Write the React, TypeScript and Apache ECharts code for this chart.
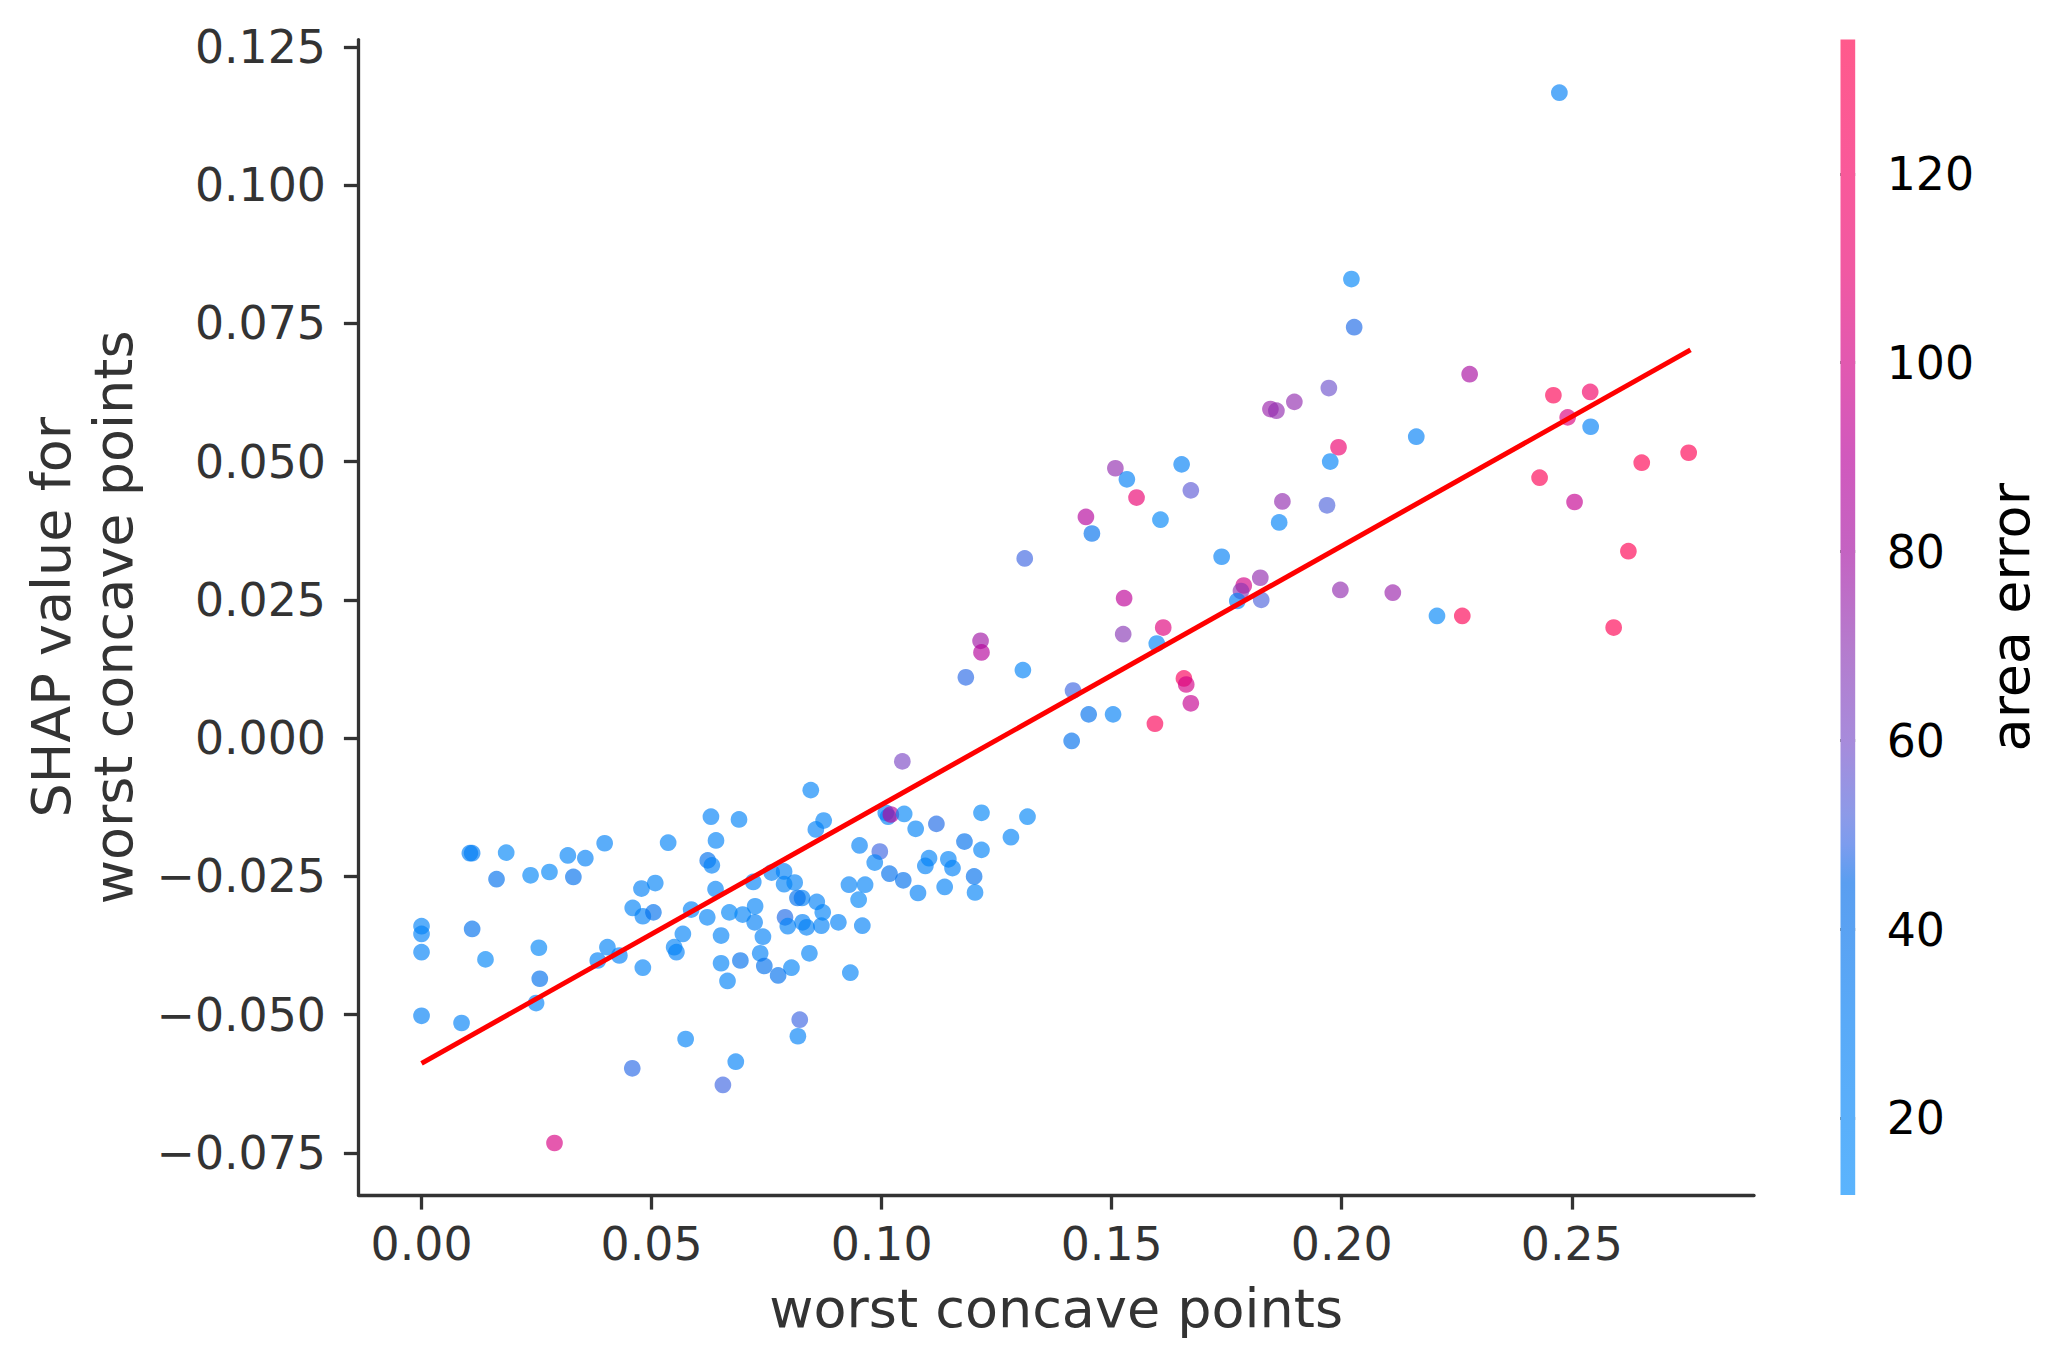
import React, { useEffect, useRef } from "react";
import * as echarts from "echarts";

// ---------- data ----------
const worstConcavePoints = [
  0.0000, 0.0000, 0.0000, 0.0000, 0.0087, 0.0105, 0.0110, 0.0184, 0.0163, 0.0110,
  0.0139, 0.0237, 0.0278, 0.0318, 0.0356, 0.0330, 0.0398, 0.0255, 0.0257, 0.0249,
  0.0289, 0.0383, 0.0404, 0.0430, 0.0459, 0.0458, 0.0536, 0.0629, 0.0690, 0.0640,
  0.0622, 0.0631, 0.0846, 0.0874, 0.0857, 0.1009, 0.1014, 0.1020, 0.1049, 0.1074,
  0.1119, 0.1217, 0.1317, 0.1281, 0.1180, 0.1217, 0.0952, 0.0996, 0.0985, 0.1103,
  0.1095, 0.1145, 0.1154, 0.1017, 0.1047, 0.1201, 0.1079, 0.1137, 0.1203, 0.0929,
  0.0964, 0.0950, 0.0958, 0.0932, 0.0906, 0.0869, 0.0872, 0.0859, 0.0827, 0.0817,
  0.0811, 0.0788, 0.0761, 0.0788, 0.0721, 0.0639, 0.0725, 0.0698, 0.0724, 0.0669,
  0.0621, 0.0586, 0.0651, 0.0742, 0.0790, 0.0796, 0.0828, 0.0837, 0.0736, 0.0843,
  0.0745, 0.0804, 0.0775, 0.0693, 0.0651, 0.0665, 0.0478, 0.0508, 0.0481, 0.0504,
  0.0568, 0.0549, 0.0554, 0.0481, 0.0574, 0.0683, 0.0655, 0.0822, 0.0818, 0.1045,
  0.2278, 0.2460, 0.2540, 0.2491, 0.2541, 0.2430, 0.2652, 0.2754, 0.2506, 0.2623,
  0.2591, 0.2262, 0.2207, 0.2111, 0.1997, 0.2162, 0.1972, 0.1897, 0.1845, 0.1858,
  0.1993, 0.1975, 0.1968, 0.1871, 0.1864, 0.1739, 0.1823, 0.1787, 0.1781, 0.1773,
  0.1825, 0.1672, 0.1652, 0.1606, 0.1554, 0.1508, 0.1533, 0.1444, 0.1457, 0.1311,
  0.1527, 0.1525, 0.1612, 0.1598, 0.1307, 0.1416, 0.1450, 0.1503, 0.1413, 0.1594,
  0.1657, 0.1662, 0.1672, 0.2473, 0.2021, 0.2027, 0.1215, 0.1217, 0.1183,
];

const shapValues = [
  -0.0340, -0.0354, -0.0387, -0.0502, -0.0515, -0.0208, -0.0208, -0.0207, -0.0255, -0.0345,
  -0.0400, -0.0248, -0.0242, -0.0212, -0.0217, -0.0251, -0.0190, -0.0379, -0.0435, -0.0479,
  -0.0732, -0.0402, -0.0378, -0.0393, -0.0307, -0.0597, -0.0189, -0.0142, -0.0147, -0.0185,
  -0.0221, -0.0230, -0.0094, -0.0149, -0.0165, -0.0135, -0.0142, -0.0138, -0.0137, -0.0164,
  -0.0155, -0.0135, -0.0142, -0.0179, -0.0187, -0.0202, -0.0194, -0.0205, -0.0225, -0.0217,
  -0.0231, -0.0219, -0.0235, -0.0245, -0.0257, -0.0250, -0.0280, -0.0269, -0.0279, -0.0265,
  -0.0265, -0.0292, -0.0339, -0.0424, -0.0333, -0.0339, -0.0315, -0.0296, -0.0289, -0.0289,
  -0.0261, -0.0241, -0.0243, -0.0264, -0.0260, -0.0273, -0.0304, -0.0319, -0.0333, -0.0315,
  -0.0324, -0.0310, -0.0357, -0.0359, -0.0324, -0.0340, -0.0333, -0.0342, -0.0389, -0.0389,
  -0.0412, -0.0415, -0.0429, -0.0402, -0.0407, -0.0439, -0.0272, -0.0262, -0.0322, -0.0315,
  -0.0354, -0.0378, -0.0387, -0.0415, -0.0544, -0.0585, -0.0627, -0.0509, -0.0539, -0.0042,
  0.0658, 0.0620, 0.0626, 0.0580, 0.0563, 0.0471, 0.0498, 0.0516, 0.0427, 0.0338,
  0.0200, 0.0221, 0.0221, 0.0263, 0.0268, 0.0545, 0.0633, 0.0608, 0.0595, 0.0592,
  0.0526, 0.0500, 0.0421, 0.0428, 0.0390, 0.0328, 0.0290, 0.0276, 0.0266, 0.0248,
  0.0250, 0.0448, 0.0495, 0.0395, 0.0435, 0.0488, 0.0468, 0.0400, 0.0370, 0.0325,
  0.0253, 0.0188, 0.0200, 0.0171, 0.0123, 0.0086, 0.0043, 0.0043, -0.0005, 0.0026,
  0.0108, 0.0097, 0.0063, 0.1167, 0.0830, 0.0743, 0.0176, 0.0155, 0.0110,
];

const areaError = [
  22, 24, 24, 25, 24, 26, 30, 20, 40, 40,
  20, 20, 20, 22, 26, 40, 24, 20, 40, 22,
  102, 24, 22, 24, 22, 48, 22, 24, 22, 22,
  40, 24, 22, 22, 24, 24, 26, 88, 20, 22,
  47, 20, 20, 22, 40, 22, 24, 50, 22, 22,
  24, 22, 24, 40, 40, 40, 26, 24, 22, 24,
  22, 20, 24, 22, 24, 24, 22, 24, 28, 40,
  22, 24, 24, 22, 22, 22, 22, 22, 26, 20,
  22, 22, 22, 24, 47, 24, 26, 26, 24, 22,
  40, 22, 40, 40, 22, 22, 26, 22, 24, 40,
  22, 22, 24, 22, 22, 24, 50, 50, 24, 62,
  82, 130, 118, 104, 26, 130, 131, 131, 95, 131,
  131, 130, 20, 75, 72, 26, 58, 72, 75, 72,
  112, 22, 52, 72, 22, 26, 72, 100, 70, 28,
  52, 55, 26, 20, 110, 72, 26, 88, 40, 50,
  92, 68, 105, 20, 22, 50, 40, 26, 40, 128,
  125, 100, 95, 26, 20, 47, 78, 88, 48,
];

const trendX = [0, 0.2758];
const trendY = [-0.0588, 0.0702];

const xTicks = [0, 0.05, 0.1, 0.15, 0.2, 0.25];
const yTicks = [-0.075, -0.05, -0.025, 0, 0.025, 0.05, 0.075, 0.1, 0.125];
const colorbarTicks = [20, 40, 60, 80, 100, 120];

const X_MIN = -0.0137;
const X_MAX = 0.2896;
const Y_MIN = -0.0826;
const Y_MAX = 0.1263;
const CB_MIN = 11.9;
const CB_MAX = 134.2;

// colormap stops (area error value -> pure colour)
const cmapValues = [11.9, 30, 45, 49, 52, 60, 70, 80, 90, 100, 110, 120, 134.2];
const cmapColors = [
  [3, 140, 252], [0, 124, 244], [1, 106, 232], [53, 103, 229], [78, 100, 220],
  [120, 77, 200], [141, 52, 178], [164, 15, 161], [184, 0, 154], [210, 0, 134],
  [233, 0, 112], [246, 0, 100], [255, 1, 78],
];

const ALPHA = 0.65;
const FONT = "DejaVu Sans";
const AXIS_COLOR = "#333333";

function interpColor(v: number): number[] {
  if (v <= cmapValues[0]) return cmapColors[0];
  for (let i = 1; i < cmapValues.length; i++) {
    if (v <= cmapValues[i]) {
      const t = (v - cmapValues[i - 1]) / (cmapValues[i] - cmapValues[i - 1]);
      const a = cmapColors[i - 1];
      const b = cmapColors[i];
      return [0, 1, 2].map((k) => a[k] + (b[k] - a[k]) * t);
    }
  }
  return cmapColors[cmapColors.length - 1];
}
const rgb = (c: number[]) => `rgb(${c.map((x) => Math.round(x)).join(",")})`;
const blended = (c: number[]) => c.map((x) => x * ALPHA + 255 * (1 - ALPHA));

const fmtY = (v: number) => {
  const s = Math.abs(v).toFixed(3);
  return v < -1e-9 ? "\u2212" + s : s;
};

export default function App() {
  const ref = useRef<HTMLDivElement>(null);
  useEffect(() => {
    if (!ref.current) return;
    const chart = echarts.init(ref.current, undefined, { renderer: "svg" });

    const scatterData = worstConcavePoints.map((xv, i) => ({
      value: [xv, shapValues[i], areaError[i]],
      itemStyle: { color: rgb(interpColor(areaError[i])) },
    }));

    const stops = cmapValues.map((v, i) => ({
      offset: (v - CB_MIN) / (CB_MAX - CB_MIN),
      color: rgb(blended(cmapColors[i])),
    }));

    const option: any = {
      animation: false,
      backgroundColor: "#ffffff",
      textStyle: { fontFamily: FONT },
      grid: [
        { left: 358.5, top: 39.6, width: 1395.5, height: 1155.4 },
        { left: 1840.5, top: 39.6, width: 14.7, height: 1155.4 },
      ],
      xAxis: [
        {
          type: "value",
          gridIndex: 0,
          min: X_MIN,
          max: X_MAX,
          axisLine: { show: true, onZero: false, lineStyle: { color: AXIS_COLOR, width: 3.3 } },
          axisTick: { show: true, length: 14.6, customValues: xTicks, lineStyle: { color: AXIS_COLOR, width: 3.3 } },
          axisLabel: {
            customValues: xTicks,
            formatter: (v: number) => v.toFixed(2),
            color: AXIS_COLOR,
            fontSize: 45.8,
            lineHeight: 46,
            margin: 26,
            fontFamily: FONT,
          },
          splitLine: { show: false },
          name: "worst concave points",
          nameLocation: "middle",
          nameGap: 81,
          nameTextStyle: { fontSize: 54, color: AXIS_COLOR, lineHeight: 64, fontFamily: FONT },
        },
        { type: "value", gridIndex: 1, min: 0, max: 1, show: false },
      ],
      yAxis: [
        {
          type: "value",
          gridIndex: 0,
          min: Y_MIN,
          max: Y_MAX,
          axisLine: { show: true, onZero: false, lineStyle: { color: AXIS_COLOR, width: 3.3 } },
          axisTick: { show: true, length: 14.6, customValues: yTicks, lineStyle: { color: AXIS_COLOR, width: 3.3 } },
          axisLabel: {
            customValues: yTicks,
            formatter: fmtY,
            color: AXIS_COLOR,
            fontSize: 45.8,
            margin: 32.5,
            fontFamily: FONT,
          },
          splitLine: { show: false },
          name: "SHAP value for\nworst concave points",
          nameLocation: "middle",
          nameRotate: 90,
          nameGap: 214,
          nameTextStyle: { fontSize: 54, color: AXIS_COLOR, lineHeight: 62, fontFamily: FONT, align: "center" },
        },
        {
          type: "value",
          gridIndex: 1,
          position: "right",
          min: CB_MIN,
          max: CB_MAX,
          axisLine: { show: false },
          axisTick: { show: true, length: 14.6, customValues: colorbarTicks, lineStyle: { color: "#000000", width: 3 } },
          axisLabel: {
            customValues: colorbarTicks,
            color: "#000000",
            fontSize: 45.8,
            margin: 31.5,
            fontFamily: FONT,
          },
          splitLine: { show: false },
          name: "area error",
          nameLocation: "middle",
          nameRotate: 90,
          nameGap: 122,
          nameTextStyle: { fontSize: 54, color: "#000000", lineHeight: 64, fontFamily: FONT },
        },
      ],
      series: [
        {
          type: "scatter",
          xAxisIndex: 0,
          yAxisIndex: 0,
          symbol: "circle",
          symbolSize: 16.7,
          itemStyle: { opacity: ALPHA, borderWidth: 0 },
          data: scatterData,
          silent: true,
          z: 2,
        },
        {
          type: "line",
          xAxisIndex: 0,
          yAxisIndex: 0,
          data: trendX.map((xv, i) => [xv, trendY[i]]),
          symbol: "none",
          showSymbol: false,
          lineStyle: { color: "#ff0000", width: 5 },
          silent: true,
          z: 3,
        },
        {
          type: "custom",
          xAxisIndex: 1,
          yAxisIndex: 1,
          data: [[0, CB_MIN]],
          silent: true,
          renderItem: (_params: any, api: any) => {
            const p0 = api.coord([0, CB_MIN]);
            const p1 = api.coord([1, CB_MAX]);
            return {
              type: "rect",
              shape: { x: p0[0], y: p1[1], width: p1[0] - p0[0], height: p0[1] - p1[1] },
              style: { fill: new echarts.graphic.LinearGradient(0, 1, 0, 0, stops) },
            };
          },
        },
      ],
    };

    chart.setOption(option);
    return () => chart.dispose();
  }, []);

  return (
    <div
      ref={ref}
      style={{ position: "absolute", left: 0, top: 0, width: 2069, height: 1368, background: "#fff" }}
    />
  );
}
